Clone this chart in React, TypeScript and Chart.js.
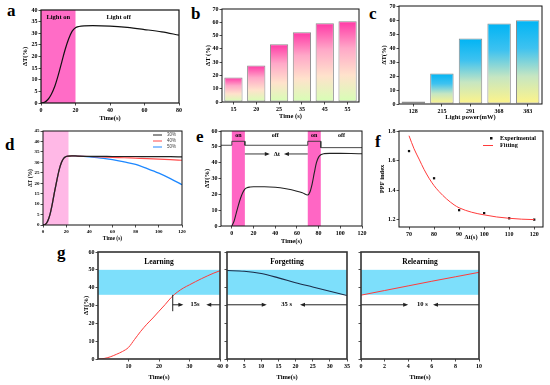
import React, { useEffect, useRef } from 'react';
import { Chart, registerables } from 'chart.js';

Chart.register(...registerables);

const SERIF = '"Liberation Serif", "Times New Roman", serif';
const SANS = '"Liberation Sans", Arial, sans-serif';

// ---------------- data ----------------
// (a) single light-on/off cycle
const aTime = [0, 2, 4, 6, 8, 10, 12, 14, 16, 18, 20, 22, 25, 30, 40, 50, 60, 70, 80];
const aDeltaT = [0, 0.3, 1.5, 3.8, 7.2, 12, 17.5, 23, 27.5, 30.8, 32.4, 32.9, 33.2, 33.3, 33.1, 32.5, 31.6, 30.6, 29.2];
const aLightOn = [0, 20];
const aXTicks = [0, 20, 40, 60, 80];
const aYTicks = [0, 5, 10, 15, 20, 25, 30, 35, 40];

// (b) illumination time
const bCategories = ['15', '20', '25', '35', '45', '55'];
const bValues = [18.4, 27.5, 43.5, 52.5, 59.3, 60.8];
const bYTicks = [0, 10, 20, 30, 40, 50, 60, 70];

// (c) light power
const cCategories = ['128', '215', '291', '368', '383'];
const cValues = [1.7, 21.8, 46.8, 57.5, 59.8];
const cYTicks = [0, 10, 20, 30, 40, 50, 60, 70];

// (d) different concentrations
const dTime = [0, 2, 4, 6, 8, 10, 12, 14, 16, 18, 20, 22, 25, 30, 40, 50, 60, 70, 80, 90, 100, 110, 120];
const d30 = [0, 0.3, 1.8, 5, 10, 16, 21.5, 26.5, 30, 32, 32.8, 33, 33.1, 33, 32.9, 32.9, 32.8, 32.8, 32.8, 32.7, 32.7, 32.7, 32.6];
const d40 = [0, 0.3, 1.8, 5, 10, 16, 21.5, 26.5, 30, 32, 32.8, 33, 33.1, 33, 32.8, 32.6, 32.4, 32.2, 32, 31.8, 31.5, 31.3, 31];
const d50 = [0, 0.3, 1.8, 5, 10, 16, 21.5, 26.5, 30, 32, 32.8, 33, 33.1, 33, 32.6, 32, 31.3, 30.2, 29, 27, 24.8, 22.2, 19.3];
const dSeriesLabels = ['30%', '40%', '50%'];
const dLightOn = [0, 22];
const dXTicks = [0, 20, 40, 60, 80, 100, 120];
const dYTicks = [0, 5, 10, 15, 20, 25, 30, 35, 40, 45];

// (e) paired pulses
const eTime = [0, 2, 4, 6, 8, 10, 12, 14, 17, 20, 30, 40, 50, 60, 65, 70, 72, 74, 76, 78, 80, 82, 85, 90, 100, 110, 120];
const eDeltaT = [0, 3, 8, 13, 17.5, 21, 23.3, 24.2, 24.6, 24.8, 24.8, 24.5, 23.5, 22, 21, 19.6, 21.5, 26.5, 33.5, 40, 43.5, 45, 45.7, 45.9, 45.9, 45.8, 45.6];
const eSignalTime = [-10, 0, 0, 12, 12, 70, 70, 82, 82, 120];
const eSignal = [51, 51, 53.5, 53.5, 51, 51, 53.5, 53.5, 49.5, 49.5];
const eOnWindows = [[0, 12], [70, 82]];
const eStateLabels = ['on', 'off', 'on', 'off'];
const eXTicks = [0, 20, 40, 60, 80, 100, 120];
const eYTicks = [0, 10, 20, 30, 40, 50, 60];

// (f) PPF index
const fInterval = [70, 80, 90, 100, 110, 120];
const fPPF = [1.664, 1.48, 1.264, 1.244, 1.209, 1.2];
const fFitX = [70, 72, 74, 76, 78, 80, 82, 85, 88, 90, 95, 100, 105, 110, 115, 120];
const fFitY = [1.768, 1.68, 1.61, 1.54, 1.48, 1.43, 1.39, 1.34, 1.3, 1.28, 1.25, 1.232, 1.218, 1.209, 1.203, 1.2];
const fXTicks = [70, 80, 90, 100, 110, 120];
const fYTicks = [1.2, 1.4, 1.6, 1.8];

// (g) learning / forgetting / relearning
const gLearnTime = [0, 2, 4, 6, 8, 10, 12, 14, 16, 18, 20, 22, 24, 26, 28, 30, 32, 34, 36, 38, 40];
const gLearnDT = [0, 0.3, 1.2, 2.6, 4.2, 6.5, 11, 15.5, 19.5, 23, 26.8, 30.5, 34.5, 37.5, 39.8, 41.6, 43.4, 45.1, 46.7, 48.2, 49.5];
const gForgetTime = [0, 5, 10, 15, 20, 25, 30, 35];
const gForgetDT = [49.6, 49.2, 47.9, 45.5, 42.8, 40.4, 38, 35.6];
const gRelearnTime = [0, 2, 4, 6, 8, 10];
const gRelearnDT = [35.8, 38.4, 41, 43.6, 46.1, 48.6];
const gBand = [36, 50];
const gTitles = ['Learning', 'Forgetting', 'Relearning'];
const gDurations = ['15s', '35 s', '10 s'];
const gYTicks = [0, 10, 20, 30, 40, 50, 60];
const g1XTicks = [10, 20, 30, 40];
const g2XTicks = [0, 5, 10, 15, 20, 25, 30, 35];
const g3XTicks = [0, 2, 4, 6, 8, 10];

// ---------------- helpers ----------------
const pts = (xs: number[], ys: number[]) => xs.map((x, i) => ({ x, y: ys[i] }));

function gridOpts() {
  return { display: true, drawOnChartArea: false, drawTicks: true, tickLength: 2.5, color: '#222', lineWidth: 0.8, offset: false };
}

function linearAxis(o: any) {
  return {
    type: 'linear',
    min: o.min,
    max: o.max,
    afterBuildTicks: (s: any) => {
      s.ticks = o.ticks.map((v: number) => ({ value: v }));
    },
    ticks: {
      display: o.showLabels !== false,
      font: { family: SERIF, size: o.tickSize ?? 6, weight: 'bold' },
      color: '#000',
      padding: 1,
      maxRotation: 0,
      autoSkip: false,
      callback: (v: any) => (o.fmt ? o.fmt(Number(v)) : String(v)),
    },
    grid: gridOpts(),
    border: { display: false },
    title: {
      display: !!o.title,
      text: o.title ?? '',
      font: { family: SERIF, size: o.titleSize ?? 6.5, weight: 'bold' },
      color: '#000',
      padding: 0,
    },
  };
}

function catAxis(title: string) {
  return {
    type: 'category',
    offset: true,
    ticks: { font: { family: SERIF, size: 6, weight: 'bold' }, color: '#000', padding: 1, maxRotation: 0, autoSkip: false },
    grid: gridOpts(),
    border: { display: false },
    title: { display: true, text: title, font: { family: SERIF, size: 6.5, weight: 'bold' }, color: '#000', padding: 0 },
  };
}

function baseOptions(scales: any) {
  return {
    responsive: false,
    animation: false,
    events: [],
    plugins: { legend: { display: false }, tooltip: { enabled: false } },
    scales,
  };
}

const lineDs = (xs: number[], ys: number[], color: string, width = 1.1, extra: any = {}) => ({
  data: pts(xs, ys),
  borderColor: color,
  backgroundColor: color,
  borderWidth: width,
  pointRadius: 0,
  fill: false,
  cubicInterpolationMode: 'monotone',
  ...extra,
});

const frame = (w = 1.2, color = '#111') => ({
  id: 'frame',
  afterDatasetsDraw(chart: any) {
    const { ctx, chartArea: a } = chart;
    ctx.save();
    ctx.strokeStyle = color;
    ctx.lineWidth = w;
    ctx.strokeRect(a.left, a.top, a.right - a.left, a.bottom - a.top);
    ctx.restore();
  },
});

function label(ctx: any, s: string, x: number, y: number, size: number, align = 'center', color = '#000', family = SERIF, weight = 'bold') {
  ctx.font = `${weight} ${size}px ${family}`;
  ctx.fillStyle = color;
  ctx.textAlign = align;
  ctx.textBaseline = 'middle';
  ctx.fillText(s, x, y);
}

function arrow(ctx: any, x1: number, y: number, x2: number) {
  const d = Math.sign(x2 - x1) || 1;
  ctx.beginPath();
  ctx.moveTo(x1, y);
  ctx.lineTo(x2 - d * 2, y);
  ctx.stroke();
  ctx.beginPath();
  ctx.moveTo(x2, y);
  ctx.lineTo(x2 - d * 5, y - 2);
  ctx.lineTo(x2 - d * 5, y + 2);
  ctx.closePath();
  ctx.fill();
}

function gradFill(stops: string[]) {
  return (c: any) => {
    const chart = c.chart;
    const y = chart.scales && chart.scales.y;
    if (!chart.chartArea || !y) return stops[0];
    const top = y.getPixelForValue(c.raw);
    const bot = y.getPixelForValue(0);
    if (bot - top < 1) return stops[0];
    const g = chart.ctx.createLinearGradient(0, top, 0, bot);
    stops.forEach((s, i) => g.addColorStop(i / (stops.length - 1), s));
    return g;
  };
}

type Box = { l: number; t: number; r: number; b: number };

function Panel({ box, yw, xh, padT = 6, padR = 8, make }: { box: Box; yw: number; xh: number; padT?: number; padR?: number; make: () => any }) {
  const ref = useRef<HTMLCanvasElement>(null);
  const left = box.l - yw;
  const top = box.t - padT;
  const w = box.r - box.l + yw + padR;
  const h = box.b - box.t + padT + xh;
  useEffect(() => {
    const cfg = make();
    cfg.options.layout = { padding: { top: padT, right: padR, left: 0, bottom: 0 } };
    const sx = cfg.options.scales.x;
    const sy = cfg.options.scales.y;
    sx.afterFit = (s: any) => {
      s.height = xh;
      s.paddingLeft = 0;
      s.paddingRight = 0;
    };
    sy.afterFit = (s: any) => {
      s.width = yw;
      s.paddingTop = 0;
      s.paddingBottom = 0;
    };
    const chart = new Chart(ref.current as HTMLCanvasElement, cfg);
    return () => chart.destroy();
  }, []);
  return <canvas ref={ref} width={w} height={h} style={{ position: 'absolute', left, top, width: w, height: h }} />;
}

// ---------------- panel configs ----------------
const makeA = () => ({
  type: 'line',
  data: { datasets: [lineDs(aTime, aDeltaT, '#111', 1.2)] },
  options: baseOptions({
    x: linearAxis({ min: 0, max: 80, ticks: aXTicks, title: 'Time(s)' }),
    y: linearAxis({ min: 0, max: 40, ticks: aYTicks, title: 'ΔT(%)' }),
  }),
  plugins: [
    {
      id: 'aDecor',
      beforeDatasetsDraw(chart: any) {
        const { ctx, chartArea: a, scales: { x } } = chart;
        ctx.save();
        const x0 = x.getPixelForValue(aLightOn[0]);
        const x1 = x.getPixelForValue(aLightOn[1]);
        ctx.fillStyle = '#ff6cc6';
        ctx.fillRect(x0, a.top, x1 - x0, a.bottom - a.top);
        label(ctx, 'Light on', (x0 + x1) / 2, a.top + 7, 6.5);
        label(ctx, 'Light off', x.getPixelForValue(45), a.top + 7, 6.5);
        ctx.restore();
      },
    },
    frame(1.2),
  ],
});

const makeB = () => ({
  type: 'bar',
  data: {
    labels: bCategories,
    datasets: [
      {
        data: bValues,
        backgroundColor: gradFill(['#ff38a6', '#ffa8c8', '#ffe2cc', '#d6ffb4']),
        borderColor: '#8c8c8c',
        borderWidth: 1,
        borderSkipped: false,
        barPercentage: 0.8,
        categoryPercentage: 1,
      },
    ],
  },
  options: baseOptions({
    x: catAxis('Time (s)'),
    y: linearAxis({ min: 0, max: 70, ticks: bYTicks, title: 'ΔT (%)' }),
  }),
  plugins: [frame(1)],
});

const makeC = () => ({
  type: 'bar',
  data: {
    labels: cCategories,
    datasets: [
      {
        data: cValues,
        backgroundColor: gradFill(['#00b4f4', '#3ec2f0', '#c6e6c2', '#fff488']),
        borderColor: '#8c8c8c',
        borderWidth: 1,
        borderSkipped: false,
        barPercentage: 0.82,
        categoryPercentage: 1,
      },
    ],
  },
  options: baseOptions({
    x: catAxis('Light power(mW)'),
    y: linearAxis({ min: 0, max: 70, ticks: cYTicks, title: 'ΔT(%)' }),
  }),
  plugins: [frame(1)],
});

const dColors = ['#222', '#ff4a4a', '#1e88ff'];
const makeD = () => ({
  type: 'line',
  data: {
    datasets: [
      lineDs(dTime, d30, dColors[0], 1.2),
      lineDs(dTime, d40, dColors[1], 1.2),
      lineDs(dTime, d50, dColors[2], 1.3),
    ],
  },
  options: baseOptions({
    x: linearAxis({ min: 0, max: 120, ticks: dXTicks, title: 'Time (s)', tickSize: 5, titleSize: 5.5 }),
    y: linearAxis({ min: 0, max: 45, ticks: dYTicks, title: 'ΔT (%)', tickSize: 5, titleSize: 5.5 }),
  }),
  plugins: [
    {
      id: 'dDecor',
      beforeDatasetsDraw(chart: any) {
        const { ctx, chartArea: a, scales: { x } } = chart;
        ctx.save();
        const x0 = x.getPixelForValue(dLightOn[0]);
        const x1 = x.getPixelForValue(dLightOn[1]);
        ctx.fillStyle = '#ffb8e6';
        ctx.fillRect(x0, a.top, x1 - x0, a.bottom - a.top);
        ctx.restore();
      },
      afterDatasetsDraw(chart: any) {
        const { ctx, chartArea: a } = chart;
        ctx.save();
        dSeriesLabels.forEach((s, i) => {
          const y = a.top + 4 + i * 6;
          ctx.strokeStyle = dColors[i];
          ctx.lineWidth = 1;
          ctx.beginPath();
          ctx.moveTo(a.right - 29, y);
          ctx.lineTo(a.right - 20, y);
          ctx.stroke();
          label(ctx, s, a.right - 15, y, 4.5, 'left', '#444', SANS, 'normal');
        });
        ctx.restore();
      },
    },
    frame(1),
  ],
});

const makeE = () => ({
  type: 'line',
  data: {
    datasets: [
      lineDs(eSignalTime, eSignal, '#333', 0.9, { cubicInterpolationMode: 'default', tension: 0 }),
      lineDs(eTime, eDeltaT, '#222', 1.1),
    ],
  },
  options: baseOptions({
    x: linearAxis({ min: -10, max: 120, ticks: eXTicks, title: 'Time(s)' }),
    y: linearAxis({ min: 0, max: 60, ticks: eYTicks, title: 'ΔT(%)' }),
  }),
  plugins: [
    {
      id: 'eDecor',
      beforeDatasetsDraw(chart: any) {
        const { ctx, chartArea: a, scales: { x, y } } = chart;
        ctx.save();
        ctx.fillStyle = '#ff66c4';
        eOnWindows.forEach(([s, e]) => {
          const x0 = x.getPixelForValue(s);
          const x1 = x.getPixelForValue(e);
          ctx.fillRect(x0, a.top, x1 - x0, a.bottom - a.top);
        });
        const labelX = [6, 40, 76, 101];
        eStateLabels.forEach((s, i) => label(ctx, s, x.getPixelForValue(labelX[i]), y.getPixelForValue(57.3), 6));
        ctx.restore();
      },
      afterDatasetsDraw(chart: any) {
        const { ctx, scales: { x, y } } = chart;
        ctx.save();
        ctx.strokeStyle = '#222';
        ctx.fillStyle = '#222';
        ctx.lineWidth = 0.9;
        const yy = y.getPixelForValue(45.5);
        arrow(ctx, x.getPixelForValue(12), yy, x.getPixelForValue(35));
        arrow(ctx, x.getPixelForValue(70), yy, x.getPixelForValue(48));
        label(ctx, 'Δt', x.getPixelForValue(41.5), yy, 6.5);
        ctx.restore();
      },
    },
    frame(1),
  ],
});

const makeF = () => ({
  type: 'line',
  data: {
    datasets: [
      lineDs(fFitX, fFitY, '#ff3b3b', 1),
      {
        data: pts(fInterval, fPPF),
        showLine: false,
        pointStyle: 'rect',
        pointRadius: 1.6,
        backgroundColor: '#111',
        borderColor: '#111',
        borderWidth: 0,
      },
    ],
  },
  options: baseOptions({
    x: linearAxis({ min: 66, max: 123.5, ticks: fXTicks, title: 'Δt(s)' }),
    y: linearAxis({ min: 1.15, max: 1.8, ticks: fYTicks, title: 'PPF index', fmt: (v: number) => v.toFixed(1) }),
  }),
  plugins: [
    {
      id: 'fLegend',
      afterDatasetsDraw(chart: any) {
        const { ctx, chartArea: a } = chart;
        ctx.save();
        ctx.fillStyle = '#111';
        ctx.fillRect(a.right - 53, a.top + 6, 2.5, 2.5);
        label(ctx, 'Experimental', a.right - 43, a.top + 7.3, 6.2, 'left');
        ctx.strokeStyle = '#ff3b3b';
        ctx.lineWidth = 1;
        ctx.beginPath();
        ctx.moveTo(a.right - 60, a.top + 14.5);
        ctx.lineTo(a.right - 50, a.top + 14.5);
        ctx.stroke();
        label(ctx, 'Fitting', a.right - 43, a.top + 14.5, 6.2, 'left');
        ctx.restore();
      },
    },
    frame(1),
  ],
});

function gDecor(idx: number, ann: any) {
  return {
    id: 'gDecor' + idx,
    beforeDatasetsDraw(chart: any) {
      const { ctx, chartArea: a, scales: { y } } = chart;
      ctx.save();
      const y0 = y.getPixelForValue(gBand[1]);
      const y1 = y.getPixelForValue(gBand[0]);
      ctx.fillStyle = '#7ddffb';
      ctx.fillRect(a.left, y0, a.right - a.left, y1 - y0);
      label(ctx, gTitles[idx], (a.left + a.right) / 2, a.top + 10.5, 7.5);
      ctx.restore();
    },
    afterDatasetsDraw(chart: any) {
      const { ctx, scales: { x, y } } = chart;
      ctx.save();
      ctx.strokeStyle = '#222';
      ctx.fillStyle = '#222';
      ctx.lineWidth = 1;
      const yy = y.getPixelForValue(30.4);
      if (ann.marker !== undefined) {
        ctx.beginPath();
        ctx.moveTo(x.getPixelForValue(ann.marker), y.getPixelForValue(36));
        ctx.lineTo(x.getPixelForValue(ann.marker), y.getPixelForValue(26.8));
        ctx.stroke();
      }
      arrow(ctx, x.getPixelForValue(ann.from), yy, x.getPixelForValue(ann.head1));
      arrow(ctx, x.getPixelForValue(ann.to), yy, x.getPixelForValue(ann.head2));
      label(ctx, gDurations[idx], x.getPixelForValue(ann.text), yy, 6.5);
      ctx.restore();
    },
  };
}

const makeG1 = () => ({
  type: 'line',
  data: { datasets: [lineDs(gLearnTime, gLearnDT, '#ff3b3b', 1)] },
  options: baseOptions({
    x: linearAxis({ min: 0, max: 40, ticks: g1XTicks, title: 'Time(s)' }),
    y: linearAxis({ min: 0, max: 60, ticks: gYTicks, title: 'ΔT(%)' }),
  }),
  plugins: [gDecor(0, { marker: 24.5, from: 24.5, head1: 28, to: 40, head2: 35.5, text: 31.8 }), frame(1.6, '#333')],
});

const makeG2 = () => ({
  type: 'line',
  data: { datasets: [lineDs(gForgetTime, gForgetDT, '#1b2b48', 1.1)] },
  options: baseOptions({
    x: linearAxis({ min: 0, max: 35, ticks: g2XTicks, title: 'Time(s)' }),
    y: linearAxis({ min: 0, max: 60, ticks: gYTicks, showLabels: false }),
  }),
  plugins: [gDecor(1, { from: 0, head1: 11.6, to: 35, head2: 21.3, text: 17.4 }), frame(1.6, '#333')],
});

const makeG3 = () => ({
  type: 'line',
  data: { datasets: [lineDs(gRelearnTime, gRelearnDT, '#ff3b3b', 1)] },
  options: baseOptions({
    x: linearAxis({ min: 0, max: 10, ticks: g3XTicks, title: 'Time(s)' }),
    y: linearAxis({ min: 0, max: 60, ticks: gYTicks, showLabels: false }),
  }),
  plugins: [gDecor(2, { from: 0, head1: 4, to: 10, head2: 6.1, text: 5.2 }), frame(1.6, '#333')],
});

const letters: [string, number, number][] = [
  ['a', 7, 2],
  ['b', 191, 5],
  ['c', 369, 5],
  ['d', 5, 136],
  ['e', 196, 128],
  ['f', 375, 133],
  ['g', 57, 244],
];

export default function App() {
  useEffect(() => {
    document.body.style.margin = '0';
  }, []);
  return (
    <div style={{ position: 'absolute', left: 0, top: 0, width: 550, height: 385, background: '#fff', overflow: 'hidden' }}>
      {letters.map(([s, x, y]) => (
        <div key={s} style={{ position: 'absolute', left: x, top: y, fontFamily: SERIF, fontWeight: 'bold', fontSize: 17, lineHeight: '17px' }}>
          {s}
        </div>
      ))}
      <Panel box={{ l: 41, t: 10, r: 179, b: 103 }} yw={20} xh={19} make={makeA} />
      <Panel box={{ l: 222, t: 9, r: 359, b: 102 }} yw={18} xh={18} make={makeB} />
      <Panel box={{ l: 399, t: 6, r: 542, b: 104 }} yw={19} xh={17} make={makeC} />
      <Panel box={{ l: 43, t: 131, r: 182, b: 225 }} yw={16} xh={17} make={makeD} />
      <Panel box={{ l: 221, t: 131, r: 362, b: 226 }} yw={18} xh={19} make={makeE} />
      <Panel box={{ l: 399, t: 131, r: 543, b: 227 }} yw={21} xh={14} padR={6} make={makeF} />
      <Panel box={{ l: 98, t: 252, r: 220, b: 359 }} yw={16} xh={22} make={makeG1} />
      <Panel box={{ l: 227, t: 252, r: 347, b: 359 }} yw={4} xh={22} make={makeG2} />
      <Panel box={{ l: 361, t: 252, r: 479, b: 359 }} yw={4} xh={22} make={makeG3} />
    </div>
  );
}
